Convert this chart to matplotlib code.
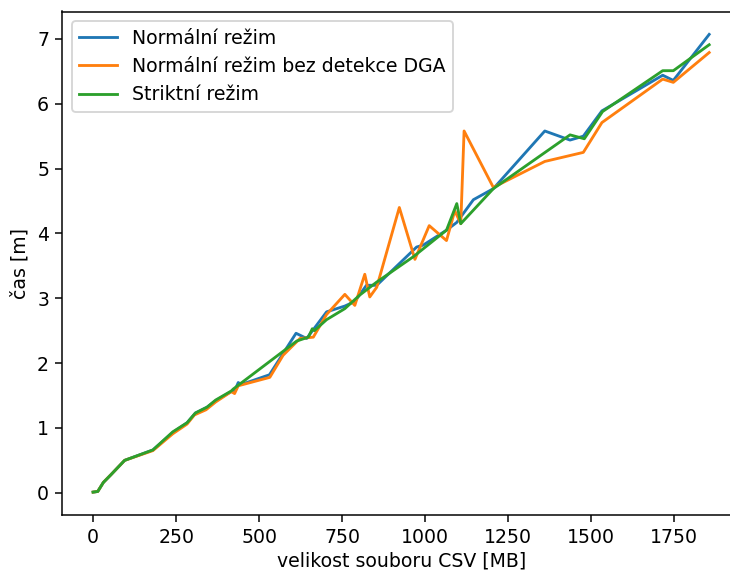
import matplotlib
matplotlib.use("Agg")
import matplotlib.pyplot as plt

# Normální režim
x_norm = [0, 14, 31, 54, 95, 180, 240, 283, 308, 343, 369, 416, 426, 437, 446, 531, 611, 643,
          703, 758, 788, 823, 854, 974, 994, 1064, 1095, 1145, 1205, 1360, 1436, 1476, 1532,
          1715, 1747, 1855]
y_norm = [0.01, 0.02, 0.16, 0.28, 0.50, 0.66, 0.93, 1.08, 1.23, 1.32, 1.42, 1.56, 1.57, 1.70, 1.67,
          1.82, 2.46, 2.38, 2.79, 2.88, 2.95, 3.20, 3.20, 3.79, 3.82, 4.05, 4.17, 4.52, 4.69,
          5.58, 5.44, 5.50, 5.89, 6.44, 6.36, 7.07]

# Normální režim bez detekce DGA
x_nodga = [0, 14, 31, 54, 95, 180, 240, 283, 305, 340, 369, 416, 426, 437, 532, 572, 623, 663,
           703, 758, 788, 818, 833, 854, 922, 969, 1012, 1064, 1089, 1107, 1117, 1205, 1360,
           1476, 1532, 1715, 1747, 1855]
y_nodga = [0.01, 0.02, 0.16, 0.28, 0.50, 0.65, 0.91, 1.06, 1.20, 1.28, 1.40, 1.56, 1.53, 1.65, 1.78,
           2.12, 2.38, 2.40, 2.75, 3.06, 2.89, 3.37, 3.02, 3.17, 4.40, 3.60, 4.12, 3.89, 4.35,
           4.15, 5.58, 4.71, 5.11, 5.25, 5.71, 6.38, 6.33, 6.79]

# Striktní režim
x_strict = [0, 14, 31, 54, 95, 180, 240, 283, 308, 343, 369, 416, 422, 613, 648, 660, 666,
            703, 758, 803, 854, 964, 1064, 1095, 1107, 1205, 1436, 1479, 1534, 1715, 1747, 1855]
y_strict = [0.01, 0.02, 0.16, 0.28, 0.50, 0.66, 0.94, 1.08, 1.23, 1.32, 1.43, 1.57, 1.60, 2.34,
            2.40, 2.53, 2.50, 2.67, 2.84, 3.05, 3.25, 3.64, 4.05, 4.46, 4.15, 4.69, 5.52, 5.46,
            5.88, 6.51, 6.51, 6.91]

labels = ["Normální režim", "Normální režim bez detekce DGA", "Striktní režim"]

dpi = 136
fig = plt.figure(figsize=(730 / dpi, 572 / dpi), dpi=dpi)
W, H = 730, 572
left, right, top, bottom = 62.3, 740.0, 11.5, 515.0
ax = fig.add_axes([left / W, 1 - bottom / H, (right - left) / W, (bottom - top) / H])

ax.plot(x_norm, y_norm, label=labels[0])
ax.plot(x_nodga, y_nodga, label=labels[1])
ax.plot(x_strict, y_strict, label=labels[2])

ax.set_xlabel("velikost souboru CSV [MB]", labelpad=2.5)
ax.set_ylabel("čas [m]")
ax.set_xticks([0, 250, 500, 750, 1000, 1250, 1500, 1750])
ax.legend(loc="upper left")

fig.savefig("out.png", dpi=dpi)
